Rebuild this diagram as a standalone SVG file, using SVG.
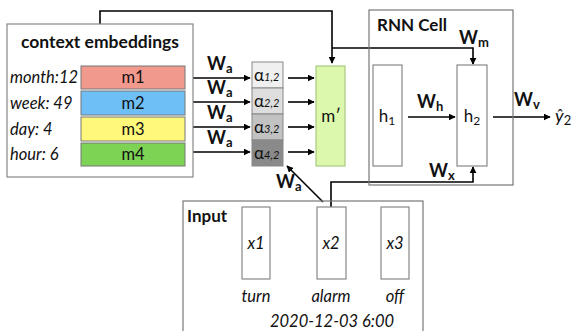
<svg xmlns="http://www.w3.org/2000/svg" width="575" height="331" viewBox="0 0 575 331">
<style>
text{font-family:Lato,"Noto Sans","DejaVu Sans",sans-serif;fill:#111}
.b{font-weight:bold}
.it{font-style:italic}
.w{font-size:18px;font-weight:bold}
.sub{font-size:13px}
.box{fill:#fff;stroke:#888;stroke-width:1.2}
.ln{fill:none;stroke:#000;stroke-width:1.6}
.cell{stroke:#888;stroke-width:1}
</style>
<defs>
<marker id="ah" viewBox="0 0 10 10" refX="9" refY="5" markerWidth="7" markerHeight="7" markerUnits="userSpaceOnUse" orient="auto"><path d="M0,0L10,5L0,10z" fill="#000"/></marker>
</defs>
<rect width="575" height="331" fill="#fff"/>

<g id="connectors">
<path class="ln" d="M100,24V11H332V63" marker-end="url(#ah)"/>
<path class="ln" d="M332,48H473V64" marker-end="url(#ah)"/>
<path class="ln" d="M331,207V182H473V167" marker-end="url(#ah)"/>
<path class="ln" d="M193,78H250" marker-end="url(#ah)"/>
<path class="ln" d="M193,102H250" marker-end="url(#ah)"/>
<path class="ln" d="M193,127H250" marker-end="url(#ah)"/>
<path class="ln" d="M193,152H250" marker-end="url(#ah)"/>
<path class="ln" d="M288,78H314" marker-end="url(#ah)"/>
<path class="ln" d="M288,102H314" marker-end="url(#ah)"/>
<path class="ln" d="M288,127H314" marker-end="url(#ah)"/>
<path class="ln" d="M288,152H314" marker-end="url(#ah)"/>
<path class="ln" d="M323,202L287,166" marker-end="url(#ah)"/>
<path class="ln" d="M408,117H455" marker-end="url(#ah)"/>
<path class="ln" d="M493,117H550" marker-end="url(#ah)"/>
<text class="w" x="207" y="70">W<tspan class="sub" dy="3">a</tspan></text>
<text class="w" x="207" y="94">W<tspan class="sub" dy="3">a</tspan></text>
<text class="w" x="207" y="119">W<tspan class="sub" dy="3">a</tspan></text>
<text class="w" x="207" y="144">W<tspan class="sub" dy="3">a</tspan></text>
<text class="w" x="276" y="188">W<tspan class="sub" dy="3">a</tspan></text>
<text class="w" x="459" y="44">W<tspan class="sub" dy="3">m</tspan></text>
<text class="w" x="417" y="108">W<tspan class="sub" dy="3">h</tspan></text>
<text class="w" x="514" y="106">W<tspan class="sub" dy="3">v</tspan></text>
<text class="w" x="429" y="177">W<tspan class="sub" dy="3">x</tspan></text>
</g>

<g id="context">
<rect class="box" x="7" y="24" width="186" height="153" stroke="#999"/>
<text class="b" x="100" y="48" font-size="17.5" text-anchor="middle">context embeddings</text>
<text class="it" x="10" y="83" font-size="16.5">month:12</text>
<text class="it" x="10" y="109" font-size="16.5">week: 49</text>
<text class="it" x="10" y="135" font-size="16.5">day: 4</text>
<text class="it" x="10" y="160" font-size="16.5">hour: 6</text>
</g>
<g id="m1"><rect x="81" y="66" width="104" height="23" fill="#f1998d" stroke="#777"/><text x="133" y="83" font-size="16.5" text-anchor="middle">m1</text></g>
<g id="m2"><rect x="81" y="91" width="104" height="24" fill="#6fbff7" stroke="#777"/><text x="133" y="109" font-size="16.5" text-anchor="middle">m2</text></g>
<g id="m3"><rect x="81" y="117" width="104" height="24" fill="#fff87a" stroke="#777"/><text x="133" y="135" font-size="16.5" text-anchor="middle">m3</text></g>
<g id="m4"><rect x="81" y="143" width="104" height="23" fill="#7dd354" stroke="#777"/><text x="133" y="160" font-size="16.5" text-anchor="middle">m4</text></g>

<g id="alpha">
<rect class="cell" x="252" y="62" width="31" height="26" fill="#f0f0f0"/>
<rect class="cell" x="252" y="88" width="31" height="26" fill="#dedede"/>
<rect class="cell" x="252" y="114" width="31" height="26" fill="#c2c2c2"/>
<rect class="cell" x="252" y="140" width="31" height="26" fill="#8a8a8a"/>
<text x="254" y="81" font-size="17">α<tspan font-size="11" font-style="italic">1,2</tspan></text>
<text x="254" y="107" font-size="17">α<tspan font-size="11" font-style="italic">2,2</tspan></text>
<text x="254" y="133" font-size="17">α<tspan font-size="11" font-style="italic">3,2</tspan></text>
<text x="254" y="159" font-size="17">α<tspan font-size="11" font-style="italic">4,2</tspan></text>
</g>

<g id="mprime">
<rect x="316" y="66" width="29" height="100" fill="#dbf8ad" stroke="#9cc070"/>
<text x="331" y="122" font-size="17" text-anchor="middle">m′</text>
</g>

<g id="rnn">
<rect x="369" y="10" width="144" height="175" fill="none" stroke="#777" stroke-width="1.2"/>
<text class="b" x="377" y="31" font-size="17">RNN Cell</text>
</g>
<g id="h1"><rect class="box" x="373" y="65" width="29" height="101"/><text x="387" y="122" font-size="17" text-anchor="middle">h<tspan font-size="12" dy="3">1</tspan></text></g>
<g id="h2"><rect class="box" x="457" y="65" width="30" height="101" fill="#fbfbfb"/><text x="472" y="122" font-size="17" text-anchor="middle">h<tspan font-size="12" dy="3">2</tspan></text></g>
<g id="yhat"><text x="555" y="122" font-size="18" font-family="'Liberation Serif',serif" font-style="italic">ŷ<tspan font-size="13" font-style="normal" dy="3">2</tspan></text></g>

<g id="input">
<rect x="183" y="201" width="240" height="140" fill="none" stroke="#777" stroke-width="1.2"/>
<text class="b" x="187" y="222" font-size="17">Input</text>
<text class="it" x="332" y="327" font-size="16.5" text-anchor="middle">2020-12-03 6:00</text>
</g>
<g id="x1"><rect class="box" x="242" y="207" width="28" height="72"/><text class="it" x="256" y="249" font-size="16.5" text-anchor="middle">x1</text><text class="it" x="256" y="302" font-size="16.5" text-anchor="middle">turn</text></g>
<g id="x2"><rect class="box" x="317" y="207" width="29" height="72"/><text class="it" x="331" y="249" font-size="16.5" text-anchor="middle">x2</text><text class="it" x="331" y="302" font-size="16.5" text-anchor="middle">alarm</text></g>
<g id="x3"><rect class="box" x="381" y="207" width="28" height="72"/><text class="it" x="395" y="249" font-size="16.5" text-anchor="middle">x3</text><text class="it" x="395" y="302" font-size="16.5" text-anchor="middle">off</text></g>
</svg>
